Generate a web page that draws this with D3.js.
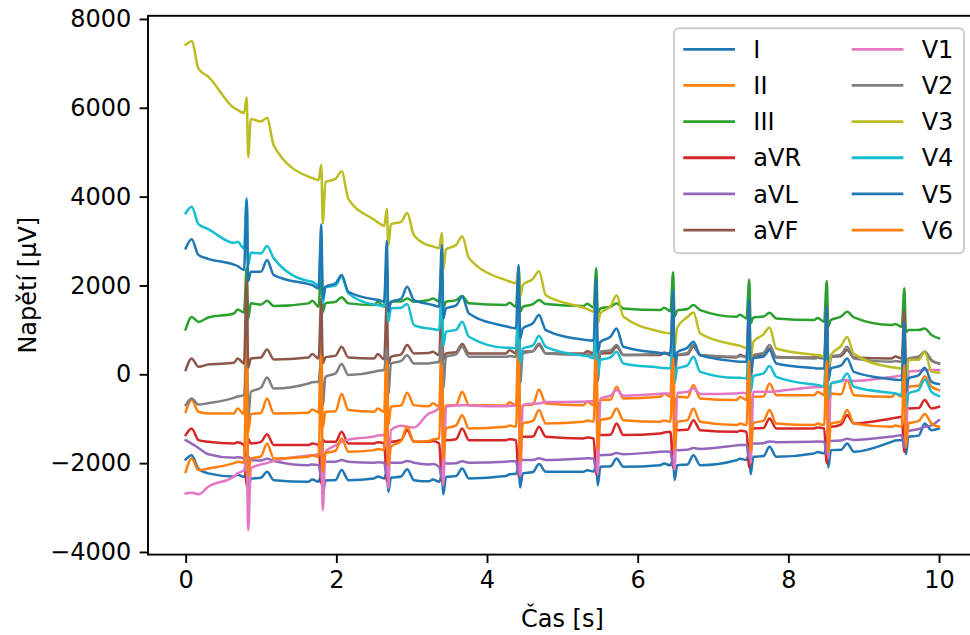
<!DOCTYPE html>
<html>
<head>
<meta charset="utf-8">
<script src="https://cdn.jsdelivr.net/npm/d3@7"></script>
<style>
  body { margin: 0; background: #fff; }
  svg { display: block; font-family: "DejaVu Sans", sans-serif; }
</style>
</head>
<body>
<svg id="chart" width="970" height="635"></svg>
<script>
// sample times [s] (start, then P / QRS / T points of each beat)
const times = [
  0, 0.08, 0.17, 0.30,
  0.64, 0.69, 0.775, 0.81, 0.83, 0.865, 1.00, 1.08, 1.17,
  1.63, 1.68, 1.765, 1.80, 1.82, 1.855, 1.99, 2.07, 2.16,
  2.50, 2.55, 2.635, 2.67, 2.69, 2.725, 2.86, 2.94, 3.03,
  3.23, 3.28, 3.365, 3.40, 3.42, 3.455, 3.59, 3.67, 3.76,
  4.25, 4.30, 4.385, 4.42, 4.44, 4.475, 4.61, 4.69, 4.78,
  5.28, 5.33, 5.415, 5.45, 5.47, 5.505, 5.64, 5.72, 5.81,
  6.30, 6.35, 6.435, 6.47, 6.49, 6.525, 6.66, 6.74, 6.83,
  7.31, 7.36, 7.445, 7.48, 7.50, 7.535, 7.67, 7.75, 7.84,
  8.34, 8.39, 8.475, 8.51, 8.53, 8.565, 8.70, 8.78, 8.87,
  9.37, 9.42, 9.505, 9.54, 9.56, 9.595, 9.73, 9.81, 9.90,
  10.0
];

// voltages [µV] per lead at those times
const leadI = [
  -1917, -1820, -2130, -2230,
  -2300, -2260, -2310, -2150, -2650, -2345, -2330, -2195, -2383,
  -2420, -2370, -2420, -2250, -2700, -2390, -2380, -2157, -2383,
  -2345, -2300, -2345, -2200, -2650, -2330, -2300, -2140, -2383,
  -2410, -2370, -2420, -2280, -2700, -2310, -2290, -2120, -2345,
  -2290, -2250, -2240, -2100, -2550, -2230, -2200, -2022, -2195,
  -2195, -2160, -2190, -2050, -2500, -2083, -2070, -1895, -2083,
  -2045, -2010, -2050, -1900, -2380, -2045, -2030, -1820, -2045,
  -1935, -1900, -1930, -1780, -2250, -1857, -1840, -1632, -1857,
  -1782, -1750, -1780, -1640, -2100, -1707, -1700, -1557, -1745,
  -1520, -1490, -1482, -1350, -1800, -1407, -1380, -1107, -1257,
  -1219
];
const leadII = [
  -844, -581, -844, -880,
  -880, -768, -896, 1800, -1300, -896, -870, -543, -881,
  -867, -790, -860, 800, -1200, -844, -830, -446, -806,
  -844, -770, -844, 850, -1150, -732, -700, -417, -694,
  -720, -650, -732, 950, -1050, -700, -690, -394, -694,
  -700, -630, -694, 1000, -1000, -694, -680, -341, -657,
  -694, -620, -694, 1000, -1000, -581, -570, -281, -544,
  -507, -440, -507, 1150, -820, -507, -520, -243, -544,
  -581, -510, -581, 1100, -880, -507, -500, -205, -469,
  -469, -400, -469, 1200, -780, -432, -450, -130, -469,
  -507, -440, -507, 1150, -800, -281, -260, -41, -281,
  -356
];
const leadIII = [
  1010, 1290, 1180, 1280,
  1370, 1460, 1394, 2400, 1250, 1597, 1570, 1655, 1536,
  1597, 1655, 1520, 2500, 1400, 1597, 1633, 1732, 1597,
  1558, 1633, 1520, 2450, 1400, 1633, 1640, 1709, 1633,
  1671, 1709, 1633, 2550, 1500, 1633, 1671, 1761, 1597,
  1558, 1610, 1520, 2420, 1400, 1520, 1580, 1671, 1581,
  1536, 1590, 1500, 2390, 1380, 1484, 1520, 1597, 1484,
  1446, 1500, 1420, 2300, 1300, 1440, 1470, 1558, 1446,
  1295, 1340, 1259, 2130, 1150, 1281, 1300, 1385, 1259,
  1221, 1270, 1182, 2100, 1080, 1221, 1300, 1408, 1281,
  1108, 1130, 1070, 1940, 950, 995, 995, 1034, 883,
  808
];
const leadAVR = [
  -1369, -1219, -1482, -1520,
  -1560, -1530, -1594, -2500, -1450, -1557, -1520, -1347, -1594,
  -1594, -1560, -1594, -2450, -1480, -1520, -1520, -1295, -1557,
  -1557, -1530, -1557, -2400, -1450, -1520, -1480, -1257, -1520,
  -1520, -1500, -1557, -2400, -1450, -1482, -1460, -1219, -1482,
  -1482, -1460, -1482, -2300, -1380, -1407, -1400, -1182, -1407,
  -1444, -1420, -1444, -2250, -1350, -1369, -1360, -1107, -1369,
  -1332, -1310, -1295, -2100, -1200, -1257, -1250, -1032, -1257,
  -1295, -1270, -1295, -2100, -1200, -1219, -1210, -994, -1219,
  -1219, -1200, -1219, -2000, -1100, -1182, -1130, -919, -1107,
  -994, -980, -957, -1750, -850, -768, -760, -581, -768,
  -731
];
const leadAVL = [
  -1482, -1560, -1660, -1800,
  -1880, -1870, -1900, -2200, -1850, -1932, -1940, -1900, -1950,
  -2045, -2030, -2045, -2350, -1950, -1970, -1970, -1930, -1970,
  -1990, -1980, -1993, -2300, -1950, -1993, -1990, -1950, -1990,
  -2030, -2020, -2083, -2350, -1950, -2007, -2000, -1960, -1990,
  -1970, -1960, -1960, -2250, -1880, -1932, -1930, -1890, -1930,
  -1895, -1890, -1895, -2200, -1800, -1820, -1810, -1770, -1800,
  -1745, -1740, -1745, -2050, -1680, -1707, -1700, -1660, -1680,
  -1600, -1590, -1594, -1900, -1540, -1560, -1550, -1510, -1530,
  -1520, -1510, -1520, -1800, -1460, -1500, -1490, -1450, -1480,
  -1400, -1390, -1369, -1650, -1300, -1280, -1230, -1180, -1150,
  -1032
];
const leadAVF = [
  95, 357, 169, 220,
  259, 357, 245, 2120, 150, 357, 380, 560, 335,
  380, 455, 357, 1700, 250, 380, 420, 619, 380,
  357, 455, 335, 1650, 230, 394, 450, 657, 470,
  480, 507, 432, 1750, 330, 470, 500, 680, 470,
  470, 540, 470, 1750, 360, 507, 520, 657, 470,
  470, 520, 470, 1700, 360, 470, 480, 619, 432,
  432, 490, 420, 1650, 320, 432, 450, 619, 432,
  380, 440, 380, 1600, 280, 394, 420, 582, 380,
  380, 430, 380, 1550, 280, 394, 410, 545, 380,
  357, 400, 357, 1445, 250, 357, 380, 507, 320,
  245
];
const leadV1 = [
  -2683, -2668, -2700, -2530,
  -2300, -2230, -2157, -1850, -3508, -2119, -2030, -2000, -1950,
  -1830, -1820, -1800, -1500, -3058, -1745, -1600, -1520, -1470,
  -1400, -1380, -1369, -1070, -2570, -1257, -1160, -1180, -1200,
  -880, -850, -760, -507, -2500, -732, -700, -694, -700,
  -720, -710, -700, -450, -2300, -694, -660, -657, -625,
  -619, -610, -600, -320, -2250, -544, -480, -356, -480,
  -440, -430, -432, -150, -2150, -420, -394, -319, -446,
  -432, -420, -425, -150, -2000, -394, -394, -394, -380,
  -290, -285, -281, 0, -1900, -205, -150, -130, -150,
  -60, -50, -18, 250, -1600, 56, 80, 95, 95,
  95
];
const leadV2 = [
  -694, -543, -680, -650,
  -530, -500, -470, 200, -1000, -394, -300, -70, -319,
  -206, -180, -169, 350, -700, -56, 20, 230, -18,
  56, 80, 95, 600, -450, 245, 300, 430, 245,
  245, 260, 281, 800, -300, 394, 450, 619, 394,
  394, 410, 394, 950, -200, 470, 520, 695, 470,
  440, 450, 432, 950, -150, 507, 540, 657, 432,
  470, 480, 470, 950, -100, 432, 480, 657, 432,
  394, 410, 394, 900, -150, 432, 480, 657, 394,
  357, 370, 357, 850, -150, 394, 450, 619, 357,
  281, 300, 281, 800, -200, 357, 400, 507, 304,
  245
];
const leadV3 = [
  7420, 7500, 6880, 6700,
  6000, 5950, 5880, 6230, 4890, 5750, 5690, 5770, 5150,
  4450, 4420, 4370, 4720, 3400, 4330, 4400, 4570, 3950,
  3480, 3420, 3340, 3720, 2900, 3380, 3430, 3630, 3130,
  2900, 2880, 2840, 3180, 2350, 2810, 2910, 3110, 2620,
  2120, 2090, 2050, 2380, 1750, 2010, 2150, 2320, 1780,
  1500, 1470, 1410, 1780, 1150, 1370, 1530, 1780, 1300,
  960, 940, 920, 1250, 600, 1050, 1290, 1390, 920,
  660, 640, 590, 990, 350, 730, 900, 1055, 580,
  440, 430, 400, 830, 150, 430, 640, 840, 460,
  160, 150, 130, 545, -150, 330, 330, 510, 60,
  35
];
const leadV4 = [
  3623, 3772, 3380, 3270,
  2960, 2984, 2830, 3970, 2450, 2736, 2722, 2887, 2610,
  2100, 2083, 2000, 3100, 1600, 1957, 2000, 2196, 1822,
  1570, 1560, 1536, 2500, 1182, 1484, 1500, 1581, 1108,
  1030, 1020, 995, 1950, 650, 957, 1000, 1182, 845,
  600, 600, 582, 1500, 250, 582, 650, 860, 619,
  420, 410, 360, 1250, 0, 320, 380, 507, 245,
  150, 140, 133, 1050, -200, 133, 200, 394, 56,
  -80, -80, -92, 800, -400, -41, 20, 185, -56,
  -230, -240, -270, 650, -550, -205, -150, 20, -281,
  -420, -430, -468, 450, -750, -430, -350, -115, -394,
  -491
];
const leadV5 = [
  2835, 3038, 2684, 2600,
  2470, 2437, 2347, 3920, 2100, 2308, 2308, 2572, 2234,
  2030, 2010, 1934, 3380, 1700, 1971, 2050, 2234, 1858,
  1690, 1680, 1633, 3000, 1400, 1633, 1700, 1971, 1671,
  1580, 1560, 1520, 2910, 1250, 1484, 1550, 1745, 1371,
  1080, 1060, 1034, 2460, 800, 1034, 1150, 1333, 995,
  780, 770, 760, 2170, 500, 732, 850, 1034, 619,
  480, 470, 470, 1890, 200, 500, 600, 732, 432,
  290, 280, 281, 1680, 0, 357, 400, 545, 245,
  140, 133, 133, 1530, -150, 133, 200, 357, 56,
  -110, -120, -131, 1180, -400, -92, -20, 146, -169,
  -221
];
const leadV6 = [
  -2195, -1895, -2157, -2120,
  -2000, -1970, -1990, 140, -2300, -1895, -1850, -1557, -1895,
  -1858, -1820, -1858, 400, -2200, -1782, -1720, -1444, -1745,
  -1707, -1680, -1707, 300, -2050, -1632, -1500, -1182, -1520,
  -1500, -1470, -1444, 200, -1900, -1219, -1150, -919, -1219,
  -1182, -1150, -1182, 280, -1950, -1107, -1050, -806, -1107,
  -1070, -1040, -1070, 300, -1700, -1032, -980, -768, -1032,
  -1070, -1040, -1070, 360, -1700, -1070, -1030, -768, -1070,
  -1144, -1110, -1144, 300, -1750, -1092, -1050, -806, -1107,
  -1144, -1110, -1144, 300, -1750, -1107, -1060, -806, -1107,
  -1182, -1150, -1182, 210, -1650, -1107, -1050, -896, -1107,
  -1182
];

const leadNames = ["I", "II", "III", "aVR", "aVL", "aVF", "V1", "V2", "V3", "V4", "V5", "V6"];
const leadValues = [leadI, leadII, leadIII, leadAVR, leadAVL, leadAVF,
  leadV1, leadV2, leadV3, leadV4, leadV5, leadV6];

const xTicks = [0, 2, 4, 6, 8, 10];
const yTicks = [-4000, -2000, 0, 2000, 4000, 6000, 8000];

const svg = d3.select("#chart");
const fontSize = 24;

const x = d3.scaleLinear().domain([-0.5, 10.5]).range([148, 976.7]);
const y = d3.scaleLinear().domain([-4059, 8071]).range([554.6, 15.8]);
const color = (i) => d3.schemeCategory10[i % 10];

const [plotLeft, plotRight] = x.range();
const [plotBottom, plotTop] = y.range();

svg.append("clipPath").attr("id", "plot-area")
  .append("rect")
  .attr("x", plotLeft).attr("y", plotTop)
  .attr("width", plotRight - plotLeft).attr("height", plotBottom - plotTop);

// traces, drawn in legend order so V6 ends up on top
const line = d3.line()
  .x((d, i) => x(times[i]))
  .y((d) => y(d))
  .curve(d3.curveMonotoneX);

svg.append("g")
  .attr("clip-path", "url(#plot-area)")
  .selectAll("path")
  .data(leadValues)
  .join("path")
  .attr("d", (d) => line(d))
  .attr("fill", "none")
  .attr("stroke", (d, i) => color(i))
  .attr("stroke-width", 2.5)
  .attr("stroke-linejoin", "round")
  .attr("stroke-linecap", "square");

// axes
const xAxis = svg.append("g")
  .attr("transform", `translate(0,${plotBottom})`)
  .call(d3.axisBottom(x).tickValues(xTicks).tickFormat(d3.format("d"))
    .tickSize(8.4).tickPadding(8.4).tickSizeOuter(0));

const yAxis = svg.append("g")
  .attr("transform", `translate(${plotLeft},0)`)
  .call(d3.axisLeft(y).tickValues(yTicks).tickFormat(d3.format("d"))
    .tickSize(8.4).tickPadding(8.4).tickSizeOuter(0));

for (const g of [xAxis, yAxis]) {
  g.select(".domain").remove();
  g.selectAll(".tick line").attr("stroke", "#000").attr("stroke-width", 1.9);
  g.selectAll(".tick text")
    .attr("fill", "#000")
    .style("font-size", fontSize + "px")
    .style("font-family", '"DejaVu Sans", sans-serif');
}

// spines
svg.append("rect")
  .attr("x", plotLeft).attr("y", plotTop)
  .attr("width", plotRight - plotLeft).attr("height", plotBottom - plotTop)
  .attr("fill", "none")
  .attr("stroke", "#000")
  .attr("stroke-width", 1.9);

svg.append("text")
  .attr("x", (plotLeft + plotRight) / 2)
  .attr("y", 627)
  .attr("text-anchor", "middle")
  .style("font-size", fontSize + "px")
  .text("Čas [s]");

svg.append("text")
  .attr("transform", `translate(36,${(plotTop + plotBottom) / 2}) rotate(-90)`)
  .attr("text-anchor", "middle")
  .style("font-size", fontSize + "px")
  .text("Napětí [µV]");

// legend, two columns of six
const legend = svg.append("g");
legend.append("rect")
  .attr("x", 674).attr("y", 28.3)
  .attr("width", 290).attr("height", 225)
  .attr("rx", 5)
  .attr("fill", "#fff")
  .attr("fill-opacity", 0.8)
  .attr("stroke", "#cccccc")
  .attr("stroke-width", 1.9);

const rowY = (r) => 49.3 + r * 36.15;
const colX = [683.3, 851.7];

leadNames.forEach((name, i) => {
  const col = Math.floor(i / 6);
  const row = i % 6;
  const g = legend.append("g")
    .attr("transform", `translate(${colX[col]},${rowY(row)})`);
  g.append("line")
    .attr("x1", 0).attr("x2", 51.7)
    .attr("y1", 0).attr("y2", 0)
    .attr("stroke", color(i))
    .attr("stroke-width", 2.8);
  g.append("text")
    .attr("x", 70)
    .attr("y", 8.7)
    .style("font-size", fontSize + "px")
    .text(name);
});
</script>
</body>
</html>
